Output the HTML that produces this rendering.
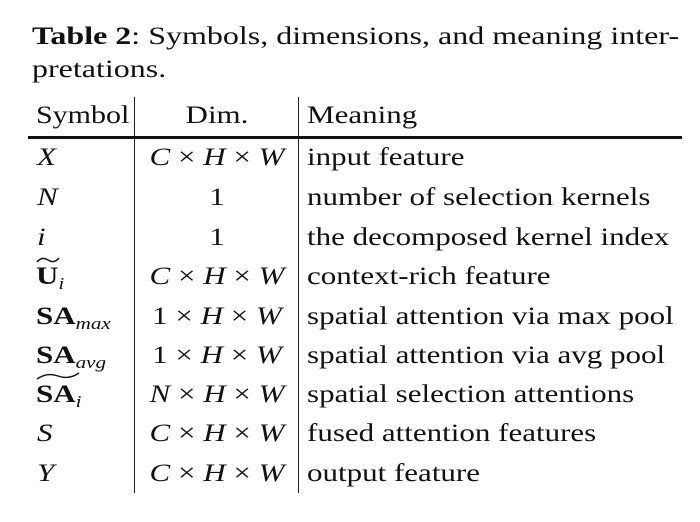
<!DOCTYPE html>
<html><head><meta charset="utf-8">
<style>
html,body{margin:0;padding:0;background:#fff;}
body{width:700px;height:522px;position:relative;overflow:hidden;font-family:"Liberation Serif","DejaVu Serif",serif;color:#111;}
.t{position:absolute;white-space:nowrap;font-size:25px;line-height:26px;transform:scaleX(1.24);transform-origin:0 50%;}
.c{position:absolute;white-space:nowrap;font-size:25px;line-height:26px;text-align:center;width:160px;left:137px;transform:scaleX(1.24);transform-origin:50% 50%;}
i{font-style:italic;}
b{font-weight:bold;}
sub{font-size:17px;font-style:italic;vertical-align:-5px;line-height:0;}
.vl{position:absolute;top:97px;height:396px;width:1.3px;background:#222;}
</style></head><body>
<div class="t" style="left:32px;top:22px;font-size:25px;line-height:30px;transform:scaleX(1.28);"><b>Table 2</b>: Symbols, dimensions, and meaning inter-</div>
<div class="t" style="left:32px;top:55px;font-size:25px;line-height:30px;transform:scaleX(1.28);">pretations.</div>

<div class="vl" style="left:134px"></div>
<div class="vl" style="left:298px"></div>
<div style="position:absolute;left:28px;top:136px;width:654px;height:3px;background:#111;"></div>

<div class="t" style="left:36px;top:103px;transform:scaleX(1.2);">Symbol</div>
<div class="c" style="top:103px;">Dim.</div>
<div class="t" style="left:307px;top:103px;">Meaning</div>

<div class="t" style="left:37px;top:145px;"><i>X</i></div>
<div class="c" style="top:145px;"><i>C</i> × <i>H</i> × <i>W</i></div>
<div class="t" style="left:307px;top:145px;">input feature</div>

<div class="t" style="left:37px;top:185px;"><i>N</i></div>
<div class="c" style="top:185px;">1</div>
<div class="t" style="left:307px;top:185px;">number of selection kernels</div>

<div class="t" style="left:37px;top:225px;"><i>i</i></div>
<div class="c" style="top:225px;">1</div>
<div class="t" style="left:307px;top:225px;">the decomposed kernel index</div>

<div class="t" style="left:36px;top:264px;"><b>U</b><sub>i</sub></div>
<svg style="position:absolute;left:36px;top:256px" width="24" height="8"><path d="M1 6 Q6 0 12 4 T23 2" fill="none" stroke="#111" stroke-width="1.4"/></svg>
<div class="c" style="top:264px;"><i>C</i> × <i>H</i> × <i>W</i></div>
<div class="t" style="left:307px;top:264px;">context-rich feature</div>

<div class="t" style="left:36px;top:304px;"><b>SA</b><sub>max</sub></div>
<div class="c" style="top:304px;">1 × <i>H</i> × <i>W</i></div>
<div class="t" style="left:307px;top:304px;">spatial attention via max pool</div>

<div class="t" style="left:36px;top:343px;"><b>SA</b><sub>avg</sub></div>
<div class="c" style="top:343px;">1 × <i>H</i> × <i>W</i></div>
<div class="t" style="left:307px;top:343px;">spatial attention via avg pool</div>

<div class="t" style="left:36px;top:382px;"><b>SA</b><sub>i</sub></div>
<svg style="position:absolute;left:36px;top:371px" width="44" height="10"><path d="M1 8 Q11 1 22 5 T43 2" fill="none" stroke="#111" stroke-width="1.4"/></svg>
<div class="c" style="top:382px;"><i>N</i> × <i>H</i> × <i>W</i></div>
<div class="t" style="left:307px;top:382px;">spatial selection attentions</div>

<div class="t" style="left:37px;top:421px;"><i>S</i></div>
<div class="c" style="top:421px;"><i>C</i> × <i>H</i> × <i>W</i></div>
<div class="t" style="left:307px;top:421px;">fused attention features</div>

<div class="t" style="left:37px;top:461px;"><i>Y</i></div>
<div class="c" style="top:461px;"><i>C</i> × <i>H</i> × <i>W</i></div>
<div class="t" style="left:307px;top:461px;">output feature</div>
</body></html>
